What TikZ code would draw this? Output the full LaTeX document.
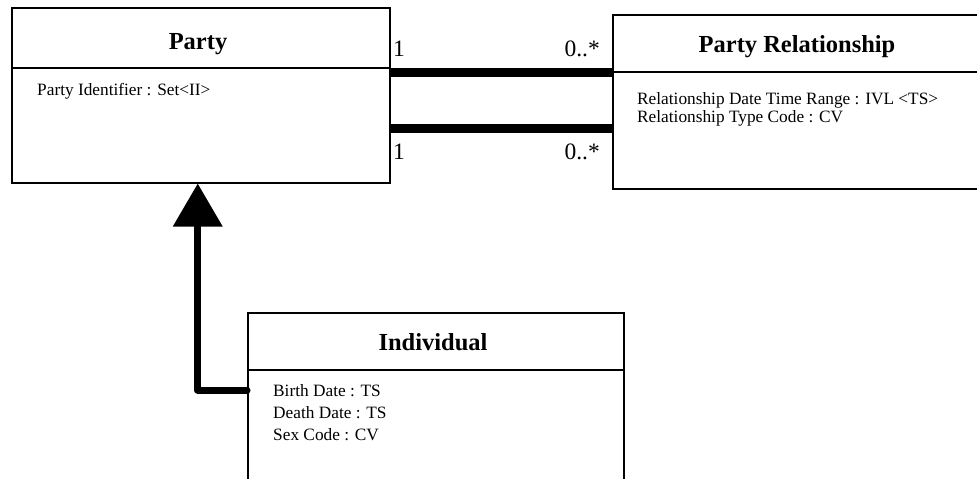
\documentclass[tikz,border=0pt]{standalone}
\usepackage{fontspec}
\setmainfont{Liberation Serif}
\usetikzlibrary{arrows.meta}
\tikzset{
  classbox/.style={draw=black, line width=1.5pt, anchor=north west, inner sep=0pt},
  divider/.style={draw=black, line width=1.5pt},
  ctitle/.style={anchor=base, inner sep=0pt, font=\fontsize{24.5}{28}\selectfont\bfseries},
  attr/.style={anchor=base west, inner sep=0pt, font=\fontsize{17.3}{19}\selectfont},
  mult/.style={inner sep=0pt, font=\fontsize{23.5}{26}\selectfont},
  assoc/.style={draw=black, line width=9pt, line cap=butt},
  gen/.style={draw=black, line width=7pt, line cap=round, line join=round,
    -{Triangle[length=43pt,width=48pt]}},
}
\begin{document}
\begin{tikzpicture}[x=1pt,y=-1pt]
\useasboundingbox (0,0) rectangle (977,479);
% Party
\node[classbox, minimum width=378pt, minimum height=175pt] (party) at (11,7) {};
\draw[divider] ([yshift=-61pt]party.north west) -- ([yshift=-61pt]party.north east);
\node[ctitle] (partyT) at (198,49) {Party};
\node[attr] (partyA1) at (37,95) {Party Identifier : Set<II>};
% Party Relationship
\node[classbox, minimum width=370pt, minimum height=174pt] (prel) at (612,14) {};
\draw[divider] ([yshift=-58pt]prel.north west) -- ([yshift=-58pt]prel.north east);
\node[ctitle] (prelT) at (797,52) {Party Relationship};
\node[attr] (prelA1) at (637,104.5) {Relationship Date Time Range : IVL <TS>};
\node[attr] (prelA2) at (637,122.5) {Relationship Type Code : CV};
% Individual
\node[classbox, minimum width=376pt, minimum height=200pt] (ind) at (247,312) {};
\draw[divider] ([yshift=-58pt]ind.north west) -- ([yshift=-58pt]ind.north east);
\node[ctitle] (indT) at (433,350) {Individual};
\node[attr] (indA1) at (273,396.5) {Birth Date : TS};
\node[attr] (indA2) at (273,418.5) {Death Date : TS};
\node[attr] (indA3) at (273,440.5) {Sex Code : CV};
% associations
\draw[assoc] (party.east |- 0,72) -- (prel.west |- 0,72);
\draw[assoc] (party.east |- 0,128) -- (prel.west |- 0,128);
\node[mult, anchor=base west] (m1a) at (393,56) {1};
\node[mult, anchor=base east] (m1b) at (600,56) {0..*};
\node[mult, anchor=base west] (m2a) at (393,159) {1};
\node[mult, anchor=base east] (m2b) at (600,159) {0..*};
% generalization
\draw[gen] ([yshift=-78pt]ind.north west) -| ([xshift=-3pt]party.south);
\end{tikzpicture}
\end{document}
